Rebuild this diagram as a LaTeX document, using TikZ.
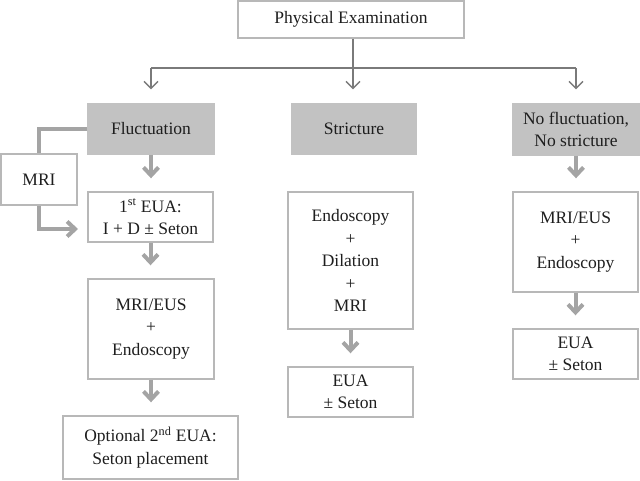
\documentclass[tikz,border=0pt]{standalone}
\usepackage{fontspec}
\setmainfont{Liberation Serif}
\usetikzlibrary{arrows.meta}
\definecolor{boxline}{HTML}{B8B8B8}
\definecolor{boxfill}{HTML}{C2C2C2}
\definecolor{thinline}{HTML}{7A7A7A}
\definecolor{thickline}{HTML}{A4A4A4}
\definecolor{txt}{HTML}{1E1E1E}
\begin{document}
\begin{tikzpicture}[x=1pt,y=-1pt,
  box/.style={draw=boxline,line width=1.4pt,align=center,inner sep=0pt,text=txt,
    font=\fontsize{17.5}{22.5}\selectfont},
  graybox/.style={box,fill=boxfill,draw=boxfill},
  thinarrow/.style={draw=thinline,line width=1.3pt,-{Straight Barb[length=7pt,width=14pt]}},
  thinline/.style={draw=thinline,line width=1.3pt},
  thickarrow/.style={draw=thickline,line width=4pt,-{Straight Barb[length=8pt,width=15pt]},shorten >=13pt},
  thickline/.style={draw=thickline,line width=4pt}]
\useasboundingbox (0,0) rectangle (640,481);
\node[box,minimum width=226pt,minimum height=37pt] (pe) at (351,19.5) {Physical Examination};
\node[graybox,minimum width=126pt,minimum height=50pt] (fl) at (151,129) {Fluctuation};
\node[graybox,minimum width=125pt,minimum height=50pt] (st) at (354,129) {Stricture};
\node[graybox,minimum width=126pt,minimum height=51pt] (nf) at (576,129.5) {No fluctuation,\\No stricture};
\node[box,minimum width=76pt,minimum height=51pt] (mri) at (39,179.5) {MRI};
\node[box,minimum width=125pt,minimum height=50pt] (eua1) at (150.5,217) {1\textsuperscript{st} EUA:\\I + D ± Seton};
\node[box,minimum width=126pt,minimum height=100pt] (me1) at (151,329) {MRI/EUS\\+\\Endoscopy};
\node[box,minimum width=175pt,minimum height=63pt] (opt) at (150.5,447.5) {Optional 2\textsuperscript{nd} EUA:\\Seton placement};
\node[box,minimum width=125pt,minimum height=137pt] (endo) at (350.5,260.5) {Endoscopy\\+\\Dilation\\+\\MRI};
\node[box,minimum width=125pt,minimum height=50pt] (eua2) at (350.5,392) {EUA\\± Seton};
\node[box,minimum width=125pt,minimum height=100pt] (me3) at (575.5,242) {MRI/EUS\\+\\Endoscopy};
\node[box,minimum width=125pt,minimum height=50pt] (eua3) at (575.5,354) {EUA\\± Seton};
% top tree
\coordinate (j) at (353,68);
\draw[thinline] (pe.south -| j) -- (j);
\draw[thinline] (j -| fl) -- (j -| nf);
\draw[thinarrow,shorten >=14pt] (j -| fl) -- (fl.north);
\draw[thinarrow,shorten >=14pt] (j) -- (j |- st.north);
\draw[thinarrow,shorten >=14pt] (j -| nf) -- (nf.north);
% thick arrows
\draw[thickarrow] (fl.south) -- (eua1.north -| fl.south);
\draw[thickarrow] (eua1.south) -- (me1.north -| eua1.south);
\draw[thickarrow] (me1.south) -- (opt.north -| me1.south);
\draw[thickarrow] (endo.south) -- (eua2.north -| endo.south);
\draw[thickarrow] (nf.south) -- (me3.north -| nf.south);
\draw[thickarrow] (me3.south) -- (eua3.north -| me3.south);
% MRI branch
\draw[thickline] (fl.west) -| (mri.north);
\coordinate (mriend) at (78,229);
\draw[thickline,-{Straight Barb[length=8pt,width=15pt]}] (mri.south) |- (mriend);
\end{tikzpicture}
\end{document}
